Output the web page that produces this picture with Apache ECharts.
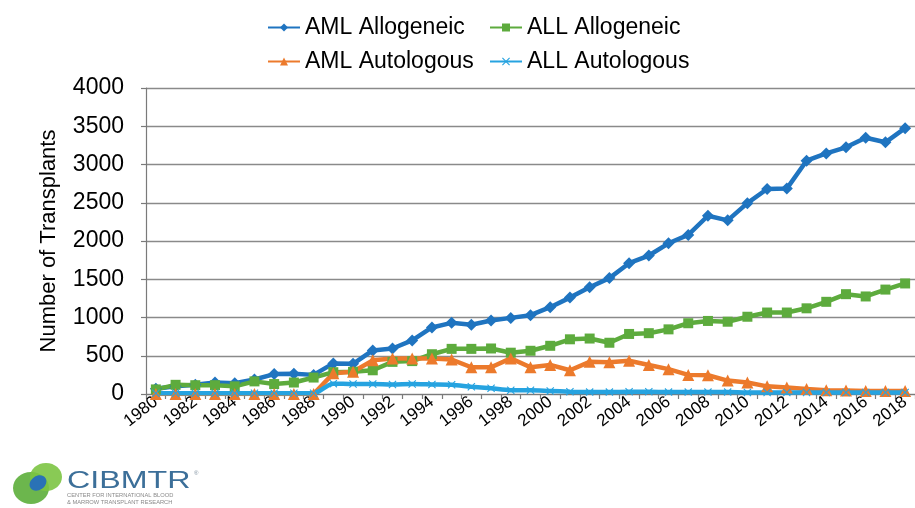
<!DOCTYPE html>
<html>
<head>
<meta charset="utf-8">
<script src="https://cdn.jsdelivr.net/npm/echarts@6/dist/echarts.min.js"></script>
<style>
  html, body { margin: 0; padding: 0; background: #ffffff; }
  #chart { width: 915px; height: 508px; }
</style>
</head>
<body>
<div id="chart"></div>
<script>
// Transplant counts by year of transplant, 1980-2018
const years = [
  '1980','1981','1982','1983','1984','1985','1986','1987','1988','1989',
  '1990','1991','1992','1993','1994','1995','1996','1997','1998','1999',
  '2000','2001','2002','2003','2004','2005','2006','2007','2008','2009',
  '2010','2011','2012','2013','2014','2015','2016','2017','2018'
];

const amlAllogeneic = [
  70, 100, 120, 150, 140, 190, 260, 265, 250, 400,
  395, 570, 595, 700, 870, 930, 905, 960, 995, 1030,
  1135, 1260, 1395, 1515, 1710, 1810, 1970, 2080, 2330, 2270,
  2495, 2680, 2685, 3050, 3145, 3225, 3350, 3290, 3475
];

const allAllogeneic = [
  60, 120, 115, 115, 100, 165, 130, 150, 215, 285,
  290, 310, 420, 430, 520, 590, 590, 595, 540, 565,
  630, 715, 725, 670, 785, 795, 845, 925, 955, 945,
  1010, 1065, 1065, 1120, 1205, 1305, 1275, 1365, 1445
];

const amlAutologous = [
  0, 0, 0, 0, 0, 0, 0, 0, 0, 270,
  290, 440, 465, 465, 465, 450, 350, 350, 465, 350,
  380, 310, 420, 415, 435, 380, 325, 250, 245, 175,
  150, 100, 85, 65, 50, 45, 40, 40, 40
];

const allAutologous = [
  10, 10, 10, 10, 10, 10, 10, 10, 10, 135,
  130, 130, 125, 130, 125, 120, 95, 75, 50, 50,
  40, 30, 25, 25, 30, 30, 25, 25, 25, 25,
  20, 20, 20, 20, 20, 20, 20, 20, 20
];

const yTicks = { min: 0, max: 4000, step: 500 };

const FONT = '"Liberation Sans", Arial, sans-serif';
const crossSymbol = 'path://M0,1L1,0L5,4L9,0L10,1L6,5L10,9L9,10L5,6L1,10L0,9L4,5Z';

const chart = echarts.init(document.getElementById('chart'), null, { renderer: 'canvas' });

function lineSeries(name, data, color, symbol, size, extra) {
  return Object.assign({
    name: name,
    type: 'line',
    data: data,
    symbol: symbol,
    symbolSize: size,
    showSymbol: true,
    lineStyle: { width: 4.5, color: color },
    itemStyle: { color: color },
    emphasis: { disabled: true },
    animation: false
  }, extra || {});
}

function legendAt(name, left, top) {
  return {
    data: [name],
    left: left,
    top: top,
    itemWidth: 32,
    itemHeight: 10,
    selectedMode: false,
    textStyle: { fontSize: 23, color: '#000', fontFamily: FONT }
  };
}

const option = {
  backgroundColor: '#ffffff',
  animation: false,
  legend: [
    legendAt('AML Allogeneic', 262, 11),
    legendAt('ALL Allogeneic', 484, 11),
    legendAt('AML Autologous', 262, 45),
    legendAt('ALL Autologous', 484, 45)
  ],
  grid: { left: 146, top: 88, width: 777, height: 306, containLabel: false },
  xAxis: {
    type: 'category',
    data: years,
    boundaryGap: true,
    axisLine: { show: true, lineStyle: { color: '#7a7a7a', width: 1.2 } },
    axisTick: { show: true, interval: 0, length: 5, lineStyle: { color: '#7a7a7a', width: 1.2 } },
    axisLabel: {
      interval: 1,
      rotate: 38,
      margin: 6,
      fontSize: 17,
      color: '#000',
      fontFamily: FONT
    },
    splitLine: { show: false }
  },
  yAxis: {
    type: 'value',
    min: yTicks.min,
    max: yTicks.max,
    interval: yTicks.step,
    name: 'Number of Transplants',
    nameLocation: 'middle',
    nameGap: 86,
    nameRotate: 90,
    nameTextStyle: { fontSize: 22, color: '#000', fontFamily: FONT },
    axisLine: { show: true, lineStyle: { color: '#7a7a7a', width: 1.2 } },
    axisTick: { show: true, length: 5, lineStyle: { color: '#7a7a7a', width: 1.2 } },
    axisLabel: {
      fontSize: 23,
      color: '#000',
      fontFamily: FONT,
      margin: 22,
      formatter: function (v) { return String(v); }
    },
    splitLine: { show: true, lineStyle: { color: '#8a8a8a', width: 1.4 } }
  },
  series: [
    lineSeries('AML Allogeneic', amlAllogeneic, '#1f74c0', 'diamond', 12),
    lineSeries('ALL Allogeneic', allAllogeneic, '#5dab3d', 'rect', 10),
    lineSeries('AML Autologous', amlAutologous, '#ec7a2c', 'triangle', 12),
    lineSeries('ALL Autologous', allAutologous, '#26a3e0', crossSymbol, 8, { smooth: 0.3 })
  ],
  graphic: [
    // CIBMTR logo in the lower left corner
    { type: 'ellipse', silent: true, shape: { cx: 31, cy: 488, rx: 18, ry: 16 }, style: { fill: '#5cae3a', opacity: 0.9 } },
    { type: 'ellipse', silent: true, shape: { cx: 46, cy: 477, rx: 16, ry: 14 }, style: { fill: '#7cc443', opacity: 0.9 } },
    { type: 'ellipse', silent: true, shape: { cx: 0, cy: 0, rx: 9, ry: 7 }, x: 38, y: 483, rotation: 0.6, style: { fill: '#2a72b6' } },
    {
      type: 'text', silent: true,
      x: 67, y: 470,
      scaleX: 1.4,
      style: { text: 'CIBMTR', fill: '#3c6f99', font: '23px ' + FONT, verticalAlign: 'top' }
    },
    {
      type: 'text', silent: true,
      x: 194, y: 470,
      style: { text: '®', fill: '#7d8f9e', font: '6px ' + FONT, verticalAlign: 'top' }
    },
    {
      type: 'text', silent: true,
      x: 67, y: 493,
      scaleX: 1.15,
      style: { text: 'CENTER FOR INTERNATIONAL BLOOD', fill: '#8a8a8a', font: '5px ' + FONT, verticalAlign: 'top' }
    },
    {
      type: 'text', silent: true,
      x: 67, y: 500,
      scaleX: 1.15,
      style: { text: '& MARROW TRANSPLANT RESEARCH', fill: '#8a8a8a', font: '5px ' + FONT, verticalAlign: 'top' }
    }
  ]
};

chart.setOption(option);
</script>
</body>
</html>
